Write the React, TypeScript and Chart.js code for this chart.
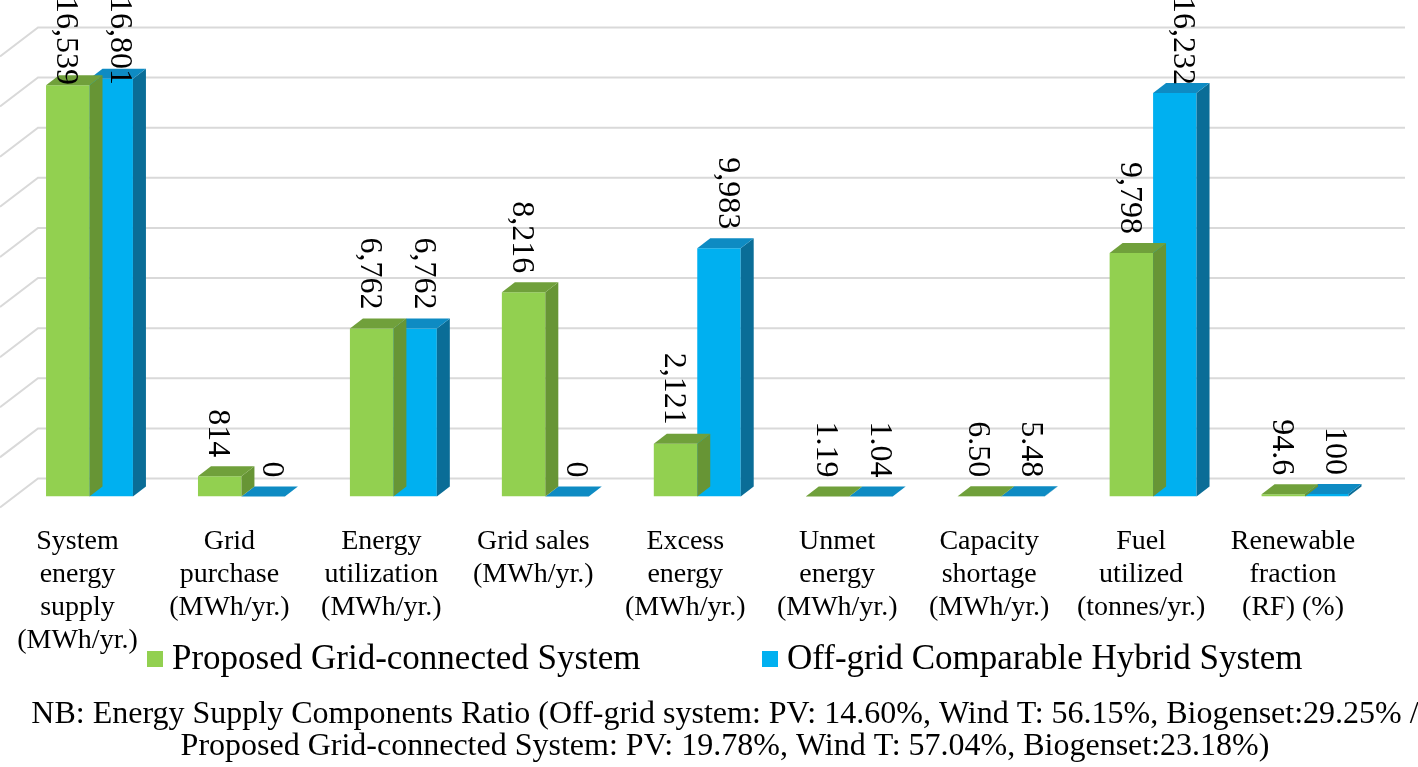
import React, { useEffect, useRef } from "react";
import { Chart, registerables } from "chart.js";

Chart.register(...registerables);

const categories: string[][] = [
  ["System", "energy", "supply", "(MWh/yr.)"],
  ["Grid", "purchase", "(MWh/yr.)"],
  ["Energy", "utilization", "(MWh/yr.)"],
  ["Grid sales", "(MWh/yr.)"],
  ["Excess", "energy", "(MWh/yr.)"],
  ["Unmet", "energy", "(MWh/yr.)"],
  ["Capacity", "shortage", "(MWh/yr.)"],
  ["Fuel", "utilized", "(tonnes/yr.)"],
  ["Renewable", "fraction", "(RF) (%)"],
];

const proposedValues = [16539, 814, 6762, 8216, 2121, 1.19, 6.5, 9798, 94.6];
const offgridValues = [16801, 0, 6762, 0, 9983, 1.04, 5.48, 16232, 100];

const proposedLabels = ["16,539", "814", "6,762", "8,216", "2,121", "1.19", "6.50", "9,798", "94.6"];
const offgridLabels = ["16,801", "0", "6,762", "0", "9,983", "1.04", "5.48", "16,232", "100"];

const seriesNames = ["Proposed Grid-connected System", "Off-grid Comparable Hybrid System"];

const gridTicks = [0, 2000, 4000, 6000, 8000, 10000, 12000, 14000, 16000, 18000];

const noteLines = [
  "NB: Energy Supply Components Ratio (Off-grid system: PV: 14.60%, Wind T: 56.15%, Biogenset:29.25% /",
  "Proposed Grid-connected System: PV: 19.78%, Wind T: 57.04%, Biogenset:23.18%)",
];

const FONT = "'Liberation Serif', 'Times New Roman', Times, serif";
const frontColors = ["#92d050", "#00b0f0"];
const topColors = ["#70a03b", "#0e8bc3"];
const sideColors = ["#679535", "#0a6d97"];
const DX = 13;
const DY = 10;

const bar3dPlugin = {
  id: "bar3d",
  beforeDatasetsDraw(chart: any) {
    const ctx = chart.ctx;
    const ys = chart.scales.y;
    const y0 = ys.getPixelForValue(0);
    ctx.save();
    ctx.strokeStyle = "#d9d9d9";
    ctx.lineWidth = 2;
    for (const v of gridTicks) {
      const yf = ys.getPixelForValue(v);
      const y = yf - 18 - (y0 - yf) * 0.008;
      ctx.beginPath();
      ctx.moveTo(0, y + 29);
      ctx.lineTo(38, y);
      ctx.lineTo(1405, y);
      ctx.stroke();
    }
    ctx.restore();
  },
  afterDatasetDraw(chart: any, args: any) {
    const i = args.index;
    const meta = args.meta;
    const ctx = chart.ctx;
    ctx.save();
    meta.data.forEach((el: any) => {
      const { x, y, base, width } = el.getProps(["x", "y", "base", "width"], true);
      const xl = x - width / 2;
      const xr = x + width / 2;
      ctx.fillStyle = sideColors[i];
      ctx.beginPath();
      ctx.moveTo(xr, y);
      ctx.lineTo(xr + DX, y - DY);
      ctx.lineTo(xr + DX, base - DY);
      ctx.lineTo(xr, base);
      ctx.closePath();
      ctx.fill();
      ctx.fillStyle = topColors[i];
      ctx.beginPath();
      ctx.moveTo(xl, y);
      ctx.lineTo(xr, y);
      ctx.lineTo(xr + DX, y - DY);
      ctx.lineTo(xl + DX, y - DY);
      ctx.closePath();
      ctx.fill();
    });
    ctx.restore();
  },
  afterDatasetsDraw(chart: any) {
    const ctx = chart.ctx;
    ctx.save();
    ctx.font = `32px ${FONT}`;
    ctx.fillStyle = "#000";
    ctx.textAlign = "right";
    ctx.textBaseline = "middle";
    const labelSets = [proposedLabels, offgridLabels];
    const xShift = [-2, 8];
    chart.data.datasets.forEach((_: any, i: number) => {
      const meta = chart.getDatasetMeta(i);
      meta.data.forEach((el: any, j: number) => {
        const { x, y } = el.getProps(["x", "y"], true);
        const txt = labelSets[i][j];
        const w = ctx.measureText(txt).width;
        const yEnd = Math.max(y - 19, -3 + w);
        ctx.save();
        ctx.translate(x + xShift[i], yEnd);
        ctx.rotate(Math.PI / 2);
        ctx.fillText(txt, 0, 0);
        ctx.restore();
      });
    });
    ctx.restore();
  },
  afterDraw(chart: any) {
    const ctx = chart.ctx;
    ctx.save();
    ctx.fillStyle = "#000";
    ctx.textBaseline = "middle";
    ctx.font = `35px ${FONT}`;
    const legendX = [147, 762];
    chart.data.datasets.forEach((ds: any, i: number) => {
      ctx.fillStyle = frontColors[i];
      ctx.fillRect(legendX[i], 651, 16, 16);
      ctx.fillStyle = "#000";
      ctx.textAlign = "left";
      ctx.fillText(ds.label, legendX[i] + 25, 660);
    });
    ctx.font = `32px ${FONT}`;
    ctx.textAlign = "center";
    ctx.fillText(noteLines[0], 725, 715);
    ctx.fillText(noteLines[1], 725, 747);
    ctx.restore();
  },
};

export default function App() {
  const ref = useRef<HTMLCanvasElement | null>(null);
  useEffect(() => {
    if (!ref.current) return;
    const chart = new Chart(ref.current, {
      type: "bar",
      data: {
        labels: categories,
        datasets: [
          {
            label: seriesNames[0],
            data: proposedValues,
            backgroundColor: frontColors[0],
            borderWidth: 0,
            categoryPercentage: 0.572,
            barPercentage: 1,
          },
          {
            label: seriesNames[1],
            data: offgridValues,
            backgroundColor: frontColors[1],
            borderWidth: 0,
            categoryPercentage: 0.572,
            barPercentage: 1,
          },
        ],
      },
      options: {
        responsive: false,
        animation: false,
        devicePixelRatio: 1,
        layout: { padding: { left: 13, right: 37, top: 49, bottom: 81.5 } },
        plugins: {
          legend: { display: false },
          title: { display: false },
          tooltip: { enabled: false },
        },
        scales: {
          x: {
            grid: { display: false, drawTicks: false },
            border: { display: false },
            ticks: {
              color: "#000",
              font: { family: FONT, size: 28, lineHeight: "33px" },
              padding: 28.5,
              labelOffset: -12,
              maxRotation: 0,
              minRotation: 0,
              autoSkip: false,
            },
          },
          y: {
            display: false,
            min: 0,
            max: 18000,
          },
        },
      },
      plugins: [bar3dPlugin],
    });
    return () => chart.destroy();
  }, []);
  return (
    <div style={{ position: "absolute", left: 0, top: 0, width: 1418, height: 767, background: "#fff" }}>
      <canvas ref={ref} width={1418} height={767} style={{ display: "block" }} />
    </div>
  );
}
